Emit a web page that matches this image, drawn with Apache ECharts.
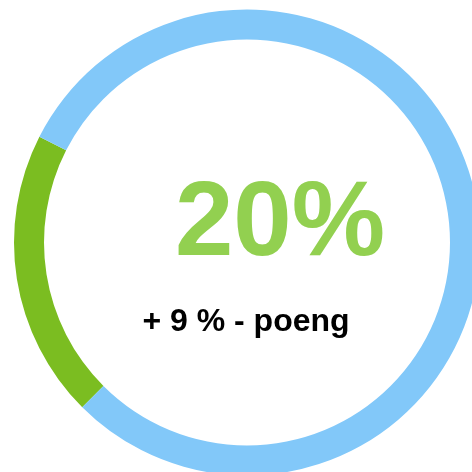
<!DOCTYPE html>
<html>
<head>
<meta charset="utf-8">
<script src="https://cdn.jsdelivr.net/npm/echarts@6/dist/echarts.min.js"></script>
<style>
  html, body { margin: 0; padding: 0; background: #ffffff; }
  #chart { width: 472px; height: 472px; }
</style>
</head>
<body>
<div id="chart"></div>
<script>
// Share of respondents and the rest of the ring
const categories = ['Andel', 'Resten'];
const shareValues = [20, 80];
const changePoints = [9];
const ringColors = ['#7BBD21', '#82C8F9'];

const chart = echarts.init(document.getElementById('chart'), null, { renderer: 'canvas' });

const mainLabel = shareValues[0] + '%';
const subLabel = '+ ' + changePoints[0] + ' % - poeng';

chart.setOption({
  animation: false,
  backgroundColor: '#ffffff',
  series: [{
    type: 'pie',
    center: [247, 242.5],
    radius: [203, 233],
    startAngle: 225,
    clockwise: true,
    silent: true,
    label: { show: false },
    labelLine: { show: false },
    itemStyle: { borderWidth: 0 },
    emphasis: { disabled: true },
    data: categories.map((name, i) => ({
      name: name,
      value: shareValues[i],
      itemStyle: { color: ringColors[i] }
    }))
  }],
  graphic: [
    {
      type: 'text',
      style: {
        text: mainLabel,
        x: 280,
        y: 174,
        fill: '#92D050',
        font: 'bold 105px "Liberation Sans", Arial, sans-serif',
        align: 'center',
        verticalAlign: 'top'
      }
    },
    {
      type: 'text',
      style: {
        text: subLabel,
        x: 246,
        y: 306,
        fill: '#000000',
        font: 'bold 32px "Liberation Sans", Arial, sans-serif',
        align: 'center',
        verticalAlign: 'top'
      }
    }
  ]
});
</script>
</body>
</html>
